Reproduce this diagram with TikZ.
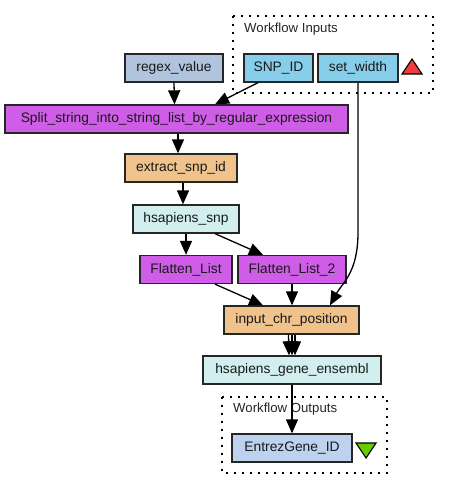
\documentclass[tikz,border=0pt]{standalone}
\usepackage{fontspec}
\setmainfont{Liberation Sans}
\usetikzlibrary{arrows.meta}
\definecolor{cRegex}{HTML}{B0C4DE}
\definecolor{cIn}{HTML}{87CEEB}
\definecolor{cPurple}{HTML}{CF5DE8}
\definecolor{cOrange}{HTML}{F0C28C}
\definecolor{cCyan}{HTML}{D2EEEE}
\definecolor{cOut}{HTML}{BCD2EE}
\definecolor{cRed}{HTML}{F03C3C}
\definecolor{cGreen}{HTML}{66CC00}
\begin{document}
\begin{tikzpicture}[x=1pt,y=-1pt,
  box/.style={draw=black!85, line width=1.3pt, minimum height=28pt, inner sep=0pt,
    font=\fontsize{13.8}{15}\selectfont, text=black!90},
  edge/.style={line width=1.3pt, -{Triangle[length=14pt,width=12pt]}},
  group/.style={line width=1.6pt, dash pattern=on 1.6pt off 6.4pt},
  glabel/.style={anchor=west, inner sep=0pt, font=\fontsize{13.2}{15}\selectfont, text=black!85}]
\fill[white] (0,0) rectangle (448,500);
\useasboundingbox (0,0) rectangle (448,500);
% groups
\draw[group] (233,16) rectangle (433,93);
\node[glabel] (inlabel) at (244,29) {Workflow Inputs};
\draw[group] (222,397) rectangle (387,473);
\node[glabel] (outlabel) at (233,409) {Workflow Outputs};
% nodes
\node[box, fill=cRegex, minimum width=98pt] (regex) at (174,68) {regex\_value};
\node[box, fill=cIn, minimum width=69pt] (snp) at (278.5,68) {SNP\_ID};
\node[box, fill=cIn, minimum width=80pt] (width) at (358,68) {set\_width};
\node[box, fill=cPurple, minimum width=343pt] (split) at (176.5,119) {Split\_string\_into\_string\_list\_by\_regular\_expression};
\node[box, fill=cOrange, minimum width=112pt] (extract) at (181,168) {extract\_snp\_id};
\node[box, fill=cCyan, minimum width=106pt] (hsnp) at (186,219) {hsapiens\_snp};
\node[box, fill=cPurple, minimum width=92pt] (flat) at (186,269.5) {Flatten\_List};
\node[box, fill=cPurple, minimum width=108pt] (flat2) at (292,269.5) {Flatten\_List\_2};
\node[box, fill=cOrange, minimum width=135pt] (chr) at (291.5,320) {input\_chr\_position};
\node[box, fill=cCyan, minimum width=178pt] (gene) at (292,370) {hsapiens\_gene\_ensembl};
\node[box, fill=cOut, minimum width=120pt] (entrez) at (292,448) {EntrezGene\_ID};
% triangles
\draw[line width=1.1pt, fill=cRed] (402,74) -- (422,74) -- (412,59) -- cycle;
\draw[line width=1.1pt, fill=cGreen] (356,443) -- (376,443) -- (366,458) -- cycle;
% edges
\draw[edge] (regex.south) -- ([xshift=-2pt]split.north);
\draw[edge] ([xshift=-20.5pt]snp.south) -- ([xshift=38.5pt]split.north);
\draw[edge] ([xshift=1.5pt]split.south) -- ([xshift=-3pt]extract.north);
\draw[edge] ([xshift=2pt]extract.south) -- ([xshift=-3pt]hsnp.north);
\draw[edge] (hsnp.south) -- (flat.north);
\draw[edge] ([xshift=29pt]hsnp.south) -- ([xshift=-29pt]flat2.north);
\draw[edge] ([xshift=29pt]flat.south) -- ([xshift=-28.5pt]chr.north);
\draw[edge] (flat2.south) -- ([xshift=0.5pt]chr.north);
\draw[edge] (width.south) -- ++(0,150) .. controls +(0,40) and +(12,-22) .. ([xshift=38.5pt]chr.north);
\draw[edge] ([xshift=-3pt]chr.south) -- ([xshift=-3pt]gene.north);
\draw[edge] ([xshift=0.5pt]chr.south) -- (gene.north);
\draw[edge] ([xshift=3.5pt]chr.south) -- ([xshift=3pt]gene.north);
\draw[edge] (gene.south) -- (entrez.north);
\end{tikzpicture}
\end{document}
